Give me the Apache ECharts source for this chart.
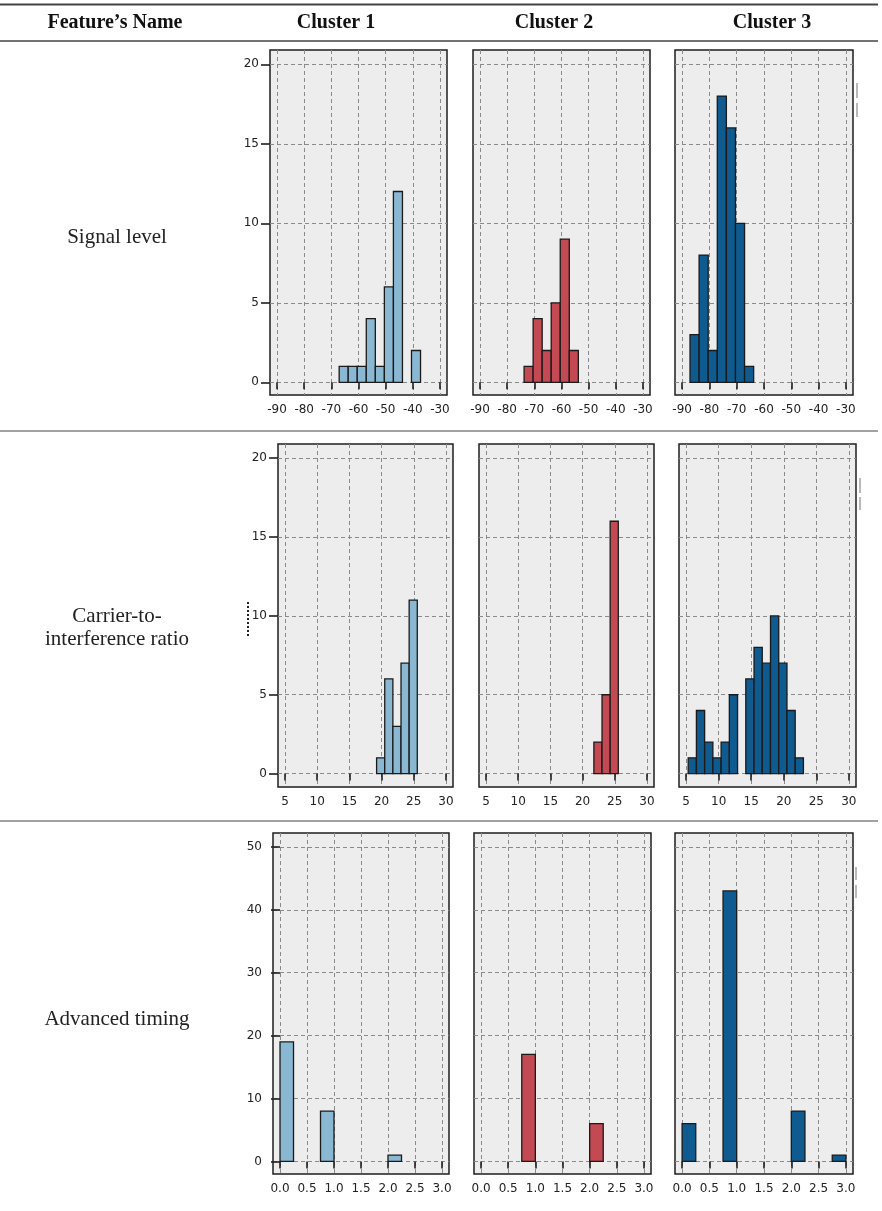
<!DOCTYPE html>
<html>
<head>
<meta charset="utf-8">
<script src="https://cdn.jsdelivr.net/npm/echarts@6/dist/echarts.min.js"></script>
<style>
html,body{margin:0;padding:0;background:#fff;}
#chart{width:882px;height:1211px;}
</style>
</head>
<body>
<div id="chart"></div>
<script>
// ---------- DATA ----------
const headers = ['Feature\u2019s Name', 'Cluster 1', 'Cluster 2', 'Cluster 3'];
const rowLabels = [['Signal level'], ['Carrier-to-', 'interference ratio'], ['Advanced timing']];

// Signal level histogram bins (edges) and counts per cluster
const signalEdges = [-87.1, -83.77, -80.44, -77.11, -73.78, -70.45, -67.12, -63.79, -60.46, -57.13, -53.8, -50.47, -47.14, -43.81, -40.48, -37.15];
const signalC1 = [0, 0, 0, 0, 0, 0, 1, 1, 1, 4, 1, 6, 12, 0, 2];
const signalC2 = [0, 0, 0, 0, 1, 4, 2, 5, 9, 2, 0, 0, 0, 0, 0];
const signalC3 = [3, 8, 2, 18, 16, 10, 1, 0, 0, 0, 0, 0, 0, 0, 0];
const signalXTicks = [-90, -80, -70, -60, -50, -40, -30];
const signalYTicks = [0, 5, 10, 15, 20];

// Carrier-to-interference ratio
const cirEdges = [5.31, 6.575, 7.84, 9.105, 10.37, 11.635, 12.9, 14.165, 15.43, 16.695, 17.96, 19.225, 20.49, 21.755, 23.02, 24.285, 25.55];
const cirC1 = [0, 0, 0, 0, 0, 0, 0, 0, 0, 0, 0, 1, 6, 3, 7, 11];
const cirC2 = [0, 0, 0, 0, 0, 0, 0, 0, 0, 0, 0, 0, 0, 2, 5, 16];
const cirC3 = [1, 4, 2, 1, 2, 5, 0, 6, 8, 7, 10, 7, 4, 1, 0, 0];
const cirXTicks = [5, 10, 15, 20, 25, 30];
const cirYTicks = [0, 5, 10, 15, 20];

// Advanced timing
const timingBins = [[0, 0.25], [0.75, 1.0], [2.0, 2.25], [2.75, 3.0]];
const timingC1 = [19, 8, 1, 0];
const timingC2 = [0, 17, 6, 0];
const timingC3 = [6, 43, 8, 1];
const timingXTicks = [0, 0.5, 1.0, 1.5, 2.0, 2.5, 3.0];
const timingYTicks = [0, 10, 20, 30, 40, 50];

const clusterColors = ['#8AB8D3', '#C34A52', '#0F5A8F'];

// ---------- BUILD ----------
function edgesToData(edges, counts) {
  const out = [];
  counts.forEach((c, i) => { if (c > 0) out.push([edges[i], edges[i + 1], c]); });
  return out;
}
function binsToData(bins, counts) {
  const out = [];
  counts.forEach((c, i) => { if (c > 0) out.push([bins[i][0], bins[i][1], c]); });
  return out;
}

const rows = [
  { data: [edgesToData(signalEdges, signalC1), edgesToData(signalEdges, signalC2), edgesToData(signalEdges, signalC3)],
    xTicks: signalXTicks, yTicks: signalYTicks, xRange: [-92.6, -27.4], yRange: [-0.8, 20.9],
    grids: [[270, 50, 177, 345], [473, 50, 177, 345], [675, 50, 178, 345]], fmt: v => String(v) },
  { data: [edgesToData(cirEdges, cirC1), edgesToData(cirEdges, cirC2), edgesToData(cirEdges, cirC3)],
    xTicks: cirXTicks, yTicks: cirYTicks, xRange: [3.9, 31.1], yRange: [-0.85, 20.9],
    grids: [[278, 444, 175, 343], [479, 444, 175, 343], [679, 444, 177, 343]], fmt: v => String(v) },
  { data: [binsToData(timingBins, timingC1), binsToData(timingBins, timingC2), binsToData(timingBins, timingC3)],
    xTicks: timingXTicks, yTicks: timingYTicks, xRange: [-0.13, 3.13], yRange: [-2, 52.2],
    grids: [[273, 833, 176, 341], [474, 833, 177, 341], [675, 833, 178, 341]], fmt: v => v.toFixed(1) }
];

const grid = [], xAxis = [], yAxis = [], series = [];
const tickFont = { fontFamily: 'DejaVu Sans', fontSize: 12, color: '#222' };
const dash = { type: [4, 3], color: '#8a8a8a', width: 1 };

rows.forEach((row, r) => {
  row.grids.forEach((g, c) => {
    const idx = grid.length;
    grid.push({ left: g[0], top: g[1], width: g[2], height: g[3], show: true,
      backgroundColor: '#ECEDEC', borderColor: '#1e1e1e', borderWidth: 1.5 });
    xAxis.push({ type: 'value', gridIndex: idx, min: row.xRange[0], max: row.xRange[1],
      axisLine: { show: false },
      axisTick: { show: true, length: 7, inside: false, customValues: row.xTicks, lineStyle: { color: '#1e1e1e', width: 1.6 } },
      axisLabel: Object.assign({ show: true, margin: 9, customValues: row.xTicks, formatter: row.fmt }, tickFont),
      splitLine: { show: true, lineStyle: dash } });
    yAxis.push({ type: 'value', gridIndex: idx, min: row.yRange[0], max: row.yRange[1],
      axisLine: { show: false },
      axisTick: { show: c === 0, length: 9, inside: false, customValues: row.yTicks, lineStyle: { color: '#1e1e1e', width: 1.6 } },
      axisLabel: Object.assign({ show: c === 0, margin: 11, customValues: row.yTicks }, tickFont),
      splitLine: { show: true, lineStyle: dash } });
    series.push({ type: 'custom', xAxisIndex: idx, yAxisIndex: idx, clip: true,
      data: row.data[c],
      renderItem: function (params, api) {
        const p0 = api.coord([api.value(0), 0]);
        const p1 = api.coord([api.value(1), api.value(2)]);
        return { type: 'rect',
          shape: { x: p0[0], y: p1[1], width: p1[0] - p0[0], height: p0[1] - p1[1] },
          style: { fill: clusterColors[c], stroke: '#1a1a1a', lineWidth: 1.3 } };
      } });
  });
});

// ---------- TABLE TEXT & RULES ----------
const graphic = [];
const serif = 'Liberation Serif';
const headerX = [115, 336, 554, 772];
headers.forEach((h, i) => graphic.push({ type: 'text', x: headerX[i], y: 23,
  style: { text: h, font: 'bold 20px "' + serif + '"', fill: '#111', align: 'center', verticalAlign: 'middle' } }));
const labelY = [[237], [616, 639], [1019]];
rowLabels.forEach((lines, r) => lines.forEach((t, k) => graphic.push({ type: 'text', x: 117, y: labelY[r][k],
  style: { text: t, font: '21px "' + serif + '"', fill: '#222', align: 'center', verticalAlign: 'middle' } })));
const rules = [[4.5, 1.8], [41, 1.4], [431, 1], [821, 1]];
rules.forEach(rl => graphic.push({ type: 'line', shape: { x1: 0, y1: rl[0], x2: 878, y2: rl[0] },
  style: { stroke: '#444', lineWidth: rl[1] } }));
// small legend remnants at the right of each row
[[857, 83, 98], [857, 103, 117], [860, 478, 493], [860, 497, 510], [856, 867, 880], [856, 885, 898]].forEach(s =>
  graphic.push({ type: 'line', shape: { x1: s[0], y1: s[1], x2: s[0], y2: s[2] }, style: { stroke: '#8a8a8a', lineWidth: 1.2 } }));
// clipped axis-title remnant
graphic.push({ type: 'line', shape: { x1: 248, y1: 602, x2: 248, y2: 636 }, style: { stroke: '#222', lineWidth: 2, lineDash: [2, 2] } });

const chart = echarts.init(document.getElementById('chart'), null, { renderer: 'canvas' });
chart.setOption({ animation: false, grid, xAxis, yAxis, series, graphic });
</script>
</body>
</html>
